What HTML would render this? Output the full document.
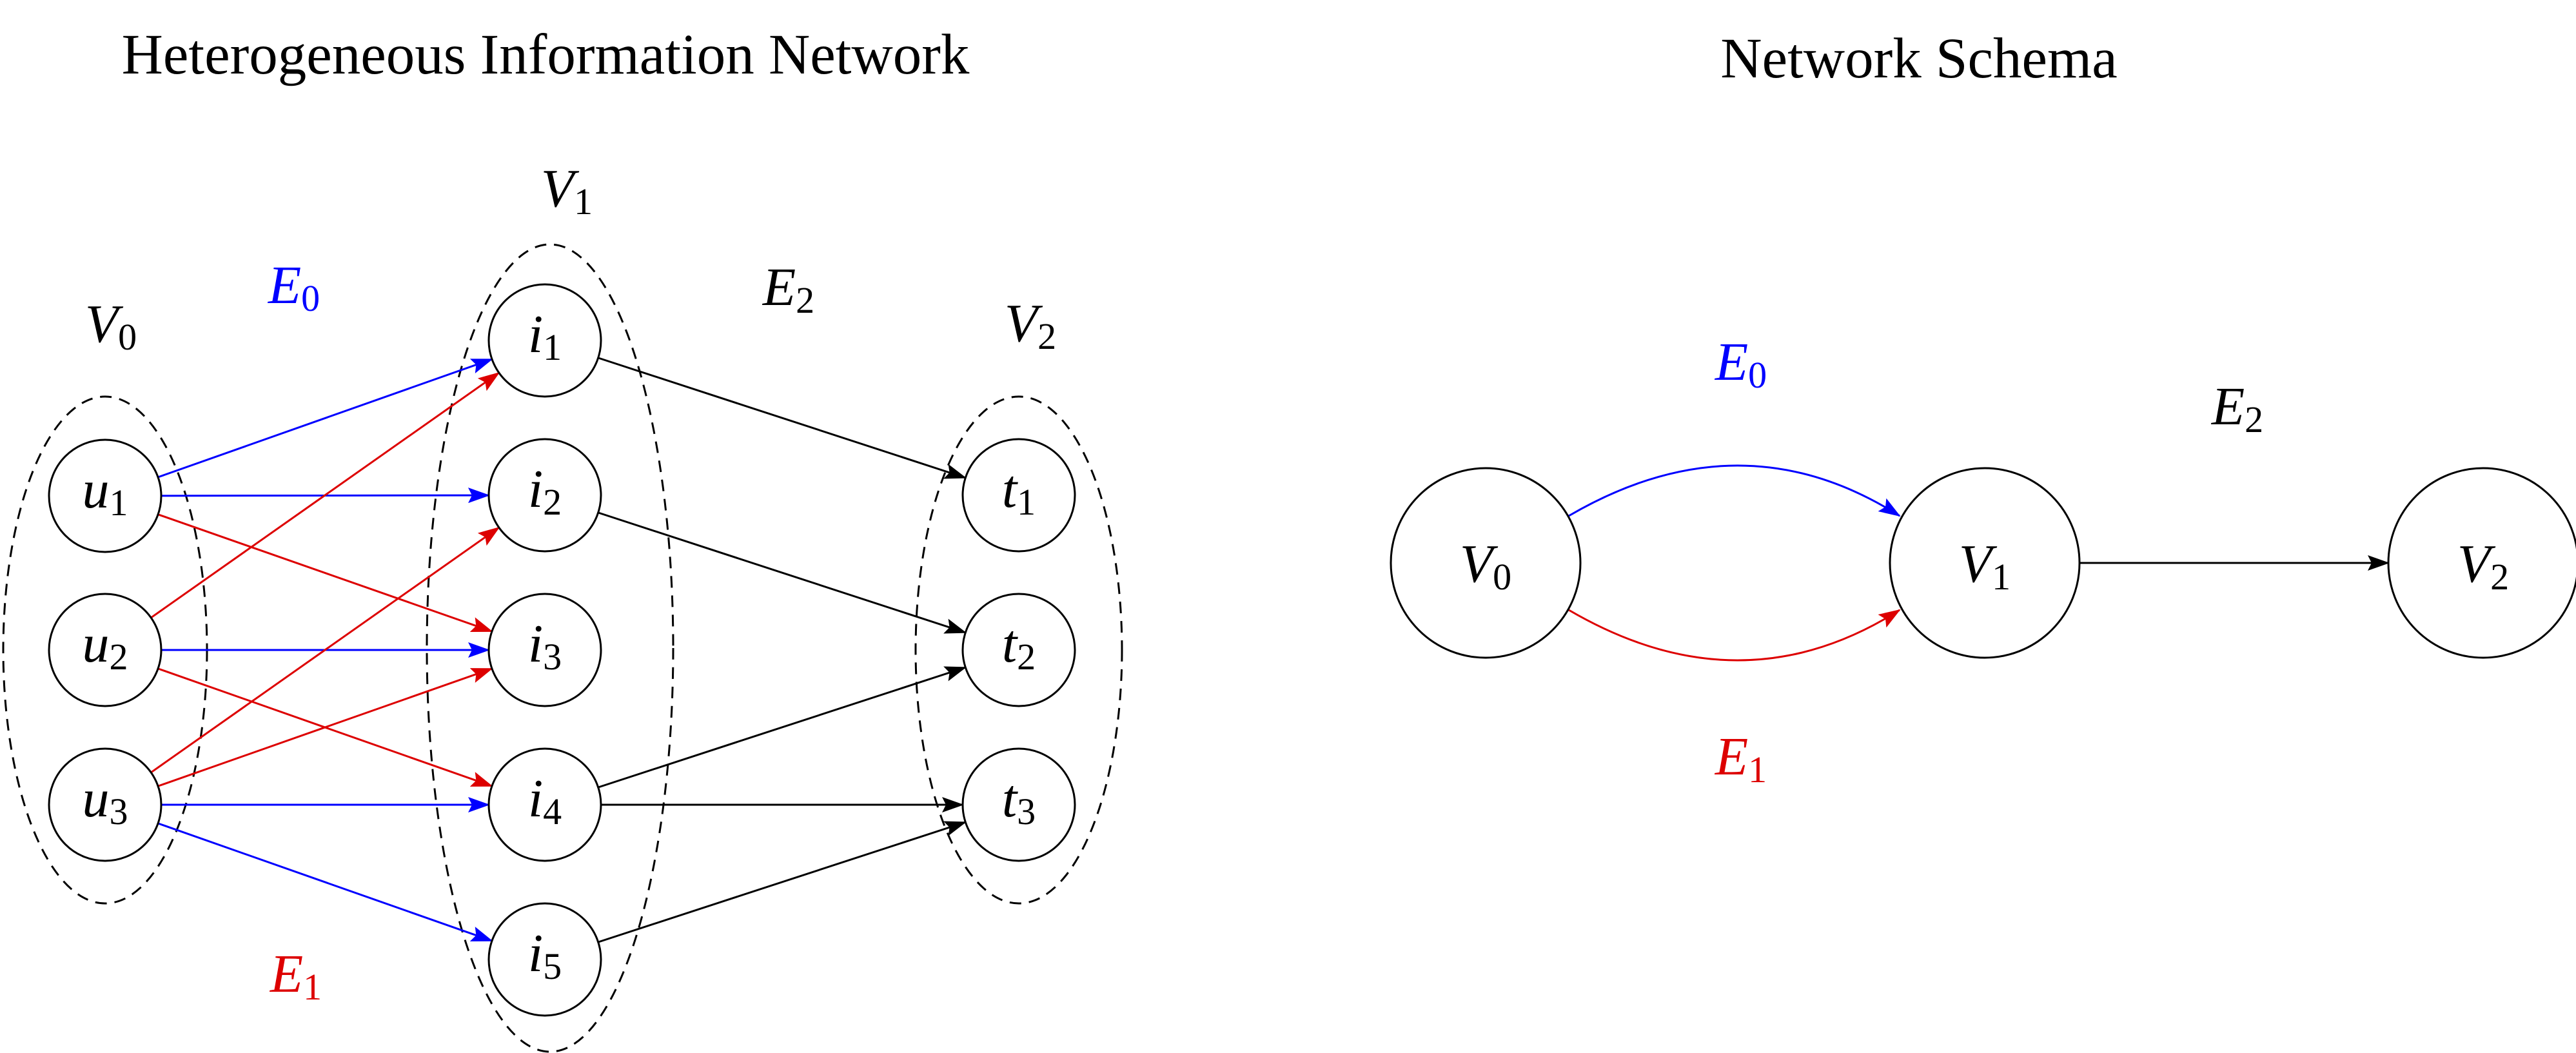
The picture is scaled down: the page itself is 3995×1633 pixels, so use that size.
<!DOCTYPE html>
<html><head><meta charset="utf-8"><style>
html,body{margin:0;padding:0;background:#fff;}
svg{display:block;}
text{font-family:"Liberation Serif",serif;}
.m{font-style:italic;font-size:84px;}
.s{font-style:normal;font-size:58px;}
</style></head><body>
<svg id="g" width="3995" height="1633" viewBox="0 0 3995 1633" xmlns="http://www.w3.org/2000/svg">
<defs>
<marker id="ab" markerUnits="userSpaceOnUse" markerWidth="34" markerHeight="24" refX="32" refY="12" orient="auto"><path d="M0,0 L34,12 L0,24 L6,12 Z" fill="#0000ff"/></marker>
<marker id="ar" markerUnits="userSpaceOnUse" markerWidth="34" markerHeight="24" refX="32" refY="12" orient="auto"><path d="M0,0 L34,12 L0,24 L6,12 Z" fill="#dd0000"/></marker>
<marker id="ak" markerUnits="userSpaceOnUse" markerWidth="34" markerHeight="24" refX="32" refY="12" orient="auto"><path d="M0,0 L34,12 L0,24 L6,12 Z" fill="#000"/></marker>
</defs>
<text x="846" y="114" font-size="89" text-anchor="middle">Heterogeneous Information Network</text>
<text x="2976" y="120" font-size="89" text-anchor="middle">Network Schema</text>

<g fill="none" stroke="#000" stroke-width="3" stroke-dasharray="18 12">
<ellipse cx="163" cy="1008" rx="158" ry="393"/>
<ellipse cx="853" cy="1005" rx="191" ry="626"/>
<ellipse cx="1580" cy="1008" rx="160" ry="393"/>
</g>
<g id="edges"></g>
<g id="nodes" fill="#fff" stroke="#000" stroke-width="3"></g>
<g id="labels"></g>

<text class="m" x="172" y="530" text-anchor="middle">V<tspan class="s" dy="12">0</tspan></text>
<text class="m" x="456" y="470" text-anchor="middle" fill="#0000ff">E<tspan class="s" dy="12">0</tspan></text>
<text class="m" x="879" y="320" text-anchor="middle">V<tspan class="s" dy="12">1</tspan></text>
<text class="m" x="1223" y="473" text-anchor="middle">E<tspan class="s" dy="12">2</tspan></text>
<text class="m" x="1598" y="529" text-anchor="middle">V<tspan class="s" dy="12">2</tspan></text>
<text class="m" x="459" y="1538" text-anchor="middle" fill="#dd0000">E<tspan class="s" dy="12">1</tspan></text>

<path d="M2433,800 Q2700,644 2946,800" fill="none" stroke="#0000ff" stroke-width="3" marker-end="url(#ab)"/>
<path d="M2433,946 Q2700,1102 2946,946" fill="none" stroke="#dd0000" stroke-width="3" marker-end="url(#ar)"/>
<line x1="3225" y1="873" x2="3704" y2="873" stroke="#000" stroke-width="3" marker-end="url(#ak)"/>
<g fill="#fff" stroke="#000" stroke-width="3">
<circle cx="2304" cy="873" r="147"/>
<circle cx="3078" cy="873" r="147"/>
<circle cx="3851" cy="873" r="147"/>
</g>
<text class="m" x="2304" y="902" text-anchor="middle">V<tspan class="s" dy="12">0</tspan></text>
<text class="m" x="3078" y="902" text-anchor="middle">V<tspan class="s" dy="12">1</tspan></text>
<text class="m" x="3851" y="902" text-anchor="middle">V<tspan class="s" dy="12">2</tspan></text>
<text class="m" x="2700" y="589" text-anchor="middle" fill="#0000ff">E<tspan class="s" dy="12">0</tspan></text>
<text class="m" x="3470" y="658" text-anchor="middle">E<tspan class="s" dy="12">2</tspan></text>
<text class="m" x="2700" y="1201" text-anchor="middle" fill="#dd0000">E<tspan class="s" dy="12">1</tspan></text>
</svg>
<script>
var NS="http://www.w3.org/2000/svg",R=87;
var N={u1:[163,769],u2:[163,1008],u3:[163,1248],
i1:[845,528],i2:[845,768],i3:[845,1008],i4:[845,1248],i5:[845,1488],
t1:[1580,768],t2:[1580,1008],t3:[1580,1248]};
var E=[["u1","i1","b"],["u1","i2","b"],["u2","i3","b"],["u3","i4","b"],["u3","i5","b"],
["u1","i3","r"],["u2","i1","r"],["u2","i4","r"],["u3","i2","r"],["u3","i3","r"],
["i1","t1","k"],["i2","t2","k"],["i4","t2","k"],["i4","t3","k"],["i5","t3","k"]];
var col={b:"#0000ff",r:"#dd0000",k:"#000"};
var ge=document.getElementById("edges");
E.forEach(function(e){var a=N[e[0]],b=N[e[1]],dx=b[0]-a[0],dy=b[1]-a[1],L=Math.hypot(dx,dy),ux=dx/L,uy=dy/L;
var l=document.createElementNS(NS,"line");
l.setAttribute("x1",a[0]+ux*R);l.setAttribute("y1",a[1]+uy*R);
l.setAttribute("x2",b[0]-ux*R);l.setAttribute("y2",b[1]-uy*R);
l.setAttribute("stroke",col[e[2]]);l.setAttribute("stroke-width","3");
l.setAttribute("marker-end","url(#a"+e[2]+")");ge.appendChild(l);});
var gn=document.getElementById("nodes"),gl=document.getElementById("labels");
for(var k in N){var c=document.createElementNS(NS,"circle");c.setAttribute("cx",N[k][0]);c.setAttribute("cy",N[k][1]);c.setAttribute("r",R);gn.appendChild(c);
var t=document.createElementNS(NS,"text");t.setAttribute("class","m");t.setAttribute("x",N[k][0]);t.setAttribute("y",N[k][1]+18);t.setAttribute("text-anchor","middle");
t.appendChild(document.createTextNode(k[0]));var s=document.createElementNS(NS,"tspan");s.setAttribute("class","s");s.setAttribute("dy","12");s.textContent=k[1];t.appendChild(s);gl.appendChild(t);}
</script>
</body></html>
